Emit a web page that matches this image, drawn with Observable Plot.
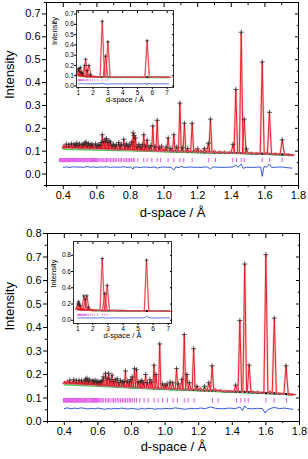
<!DOCTYPE html>
<html><head><meta charset="utf-8">
<script src="https://cdn.jsdelivr.net/npm/d3@7"></script>
<script src="https://cdn.jsdelivr.net/npm/@observablehq/plot@0.6"></script>
<style>
html,body{margin:0;padding:0;background:#fff;}
#wrap{position:relative;width:308px;height:459px;overflow:hidden;}
#wrap svg{position:absolute;}
</style></head><body><div id="wrap"></div>
<script>
// ---------- axis ticks ----------
const xTicks = [0.4,0.6,0.8,1.0,1.2,1.4,1.6,1.8];
const xMinor = [0.3,0.5,0.7,0.9,1.1,1.3,1.5,1.7];
const topYTicks = [0,0.1,0.2,0.3,0.4,0.5,0.6,0.7];
const topYMinor = [-0.05,0.05,0.15,0.25,0.35,0.45,0.55,0.65,0.75];
const botYTicks = [0,0.1,0.2,0.3,0.4,0.5,0.6,0.7,0.8];
const botYMinor = [0.05,0.15,0.25,0.35,0.45,0.55,0.65,0.75];
const insXTicks = [1,2,3,4,5,6,7];
const topInsYTicks = [0,0.1,0.2,0.3,0.4,0.5,0.6,0.7];
const botInsYTicks = [0,0.2,0.4,0.6,0.8];

// ---------- top panel (main) ----------
const topPeakD = [0.397,0.403,0.410,0.418,0.426,0.433,0.441,0.449,0.456,0.464,0.472,0.480,0.488,0.496,0.503,0.511,0.519,0.527,0.535,0.543,0.551,0.559,0.567,0.575,0.583,0.592,0.600,0.608,0.617,0.625,0.632,0.641,0.649,0.657,0.665,0.672,0.681,0.690,0.699,0.708,0.716,0.730,0.738,0.746,0.760,0.768,0.777,0.786,0.795,0.805,0.816,0.822,0.830,0.840,0.850,0.861,0.870,0.879,0.889,0.899,0.910,0.921,0.933,0.946,0.959,0.972,0.985,1.000,1.012,1.024,1.040,1.058,1.075,1.094,1.108,1.121,1.140,1.167,1.185,1.200,1.220,1.240,1.263,1.276,1.300,1.330,1.360,1.390,1.410,1.427,1.459,1.477,1.490,1.520,1.550,1.584,1.610,1.627,1.660,1.703,1.740,1.762];
const topPeakTop = [0.118,0.128,0.124,0.131,0.122,0.129,0.126,0.133,0.124,0.130,0.127,0.135,0.126,0.132,0.124,0.130,0.128,0.136,0.140,0.127,0.134,0.125,0.131,0.128,0.124,0.132,0.123,0.128,0.125,0.138,0.172,0.142,0.150,0.155,0.138,0.146,0.140,0.125,0.130,0.122,0.128,0.138,0.124,0.130,0.152,0.126,0.132,0.122,0.128,0.140,0.180,0.168,0.158,0.120,0.130,0.118,0.128,0.172,0.122,0.148,0.118,0.125,0.210,0.120,0.235,0.115,0.122,0.112,0.118,0.158,0.112,0.172,0.118,0.310,0.115,0.222,0.112,0.222,0.108,0.110,0.105,0.112,0.135,0.240,0.104,0.100,0.100,0.098,0.130,0.370,0.620,0.240,0.110,0.095,0.094,0.490,0.095,0.270,0.092,0.150,0.088,0.084];
const topPeakFoot = [0.116,0.116,0.114,0.116,0.115,0.114,0.116,0.115,0.113,0.115,0.114,0.115,0.113,0.114,0.113,0.114,0.112,0.114,0.113,0.112,0.113,0.111,0.112,0.111,0.112,0.111,0.110,0.111,0.110,0.111,0.110,0.111,0.110,0.109,0.110,0.109,0.110,0.108,0.109,0.108,0.109,0.107,0.108,0.107,0.108,0.106,0.107,0.106,0.107,0.105,0.106,0.105,0.106,0.104,0.105,0.104,0.105,0.103,0.104,0.103,0.104,0.102,0.103,0.102,0.101,0.102,0.101,0.101,0.100,0.101,0.099,0.100,0.099,0.099,0.098,0.099,0.097,0.098,0.097,0.096,0.097,0.095,0.096,0.095,0.094,0.094,0.093,0.092,0.093,0.092,0.092,0.091,0.091,0.090,0.089,0.089,0.088,0.088,0.087,0.086,0.084,0.083];
const topBgD = [0.40,0.60,0.80,1.00,1.20,1.40,1.60,1.76];
const topBgI = [0.108,0.105,0.101,0.097,0.093,0.090,0.086,0.082];
const topTickD = [0.377,0.381,0.385,0.389,0.392,0.396,0.400,0.404,0.408,0.411,0.415,0.419,0.423,0.427,0.431,0.435,0.439,0.443,0.447,0.451,0.455,0.459,0.463,0.467,0.472,0.476,0.480,0.485,0.489,0.494,0.498,0.503,0.507,0.512,0.517,0.521,0.526,0.531,0.536,0.541,0.546,0.552,0.557,0.563,0.568,0.574,0.580,0.586,0.592,0.598,0.605,0.611,0.618,0.625,0.632,0.641,0.649,0.657,0.665,0.672,0.681,0.690,0.699,0.708,0.716,0.730,0.738,0.746,0.760,0.768,0.777,0.786,0.795,0.805,0.816,0.822,0.844,0.879,0.899,0.927,0.959,0.978,1.024,1.058,1.094,1.117,1.167,1.266,1.306,1.409,1.431,1.459,1.477,1.584,1.627,1.703];
const topTickRow = [0.050,0.068];
const topDiffD = [0.40,0.42,0.44,0.46,0.48,0.50,0.52,0.54,0.56,0.58,0.60,0.62,0.64,0.66,0.68,0.70,0.72,0.74,0.76,0.78,0.80,0.816,0.82,0.84,0.86,0.88,0.90,0.92,0.94,0.96,0.98,1.00,1.02,1.04,1.058,1.07,1.09,1.10,1.12,1.14,1.16,1.18,1.20,1.22,1.24,1.26,1.276,1.29,1.32,1.35,1.38,1.41,1.427,1.44,1.459,1.47,1.49,1.52,1.55,1.575,1.584,1.595,1.61,1.627,1.64,1.67,1.70,1.73,1.76];
const topDiffI = [0.030,0.031,0.029,0.032,0.030,0.031,0.029,0.033,0.030,0.031,0.029,0.031,0.030,0.032,0.029,0.031,0.030,0.030,0.032,0.029,0.031,0.022,0.031,0.030,0.029,0.031,0.030,0.029,0.031,0.026,0.030,0.031,0.029,0.030,0.018,0.031,0.028,0.034,0.029,0.030,0.031,0.029,0.030,0.029,0.031,0.030,0.022,0.031,0.030,0.029,0.030,0.031,0.040,0.029,0.044,0.025,0.030,0.029,0.030,0.031,-0.010,0.033,0.030,0.044,0.029,0.030,0.031,0.028,0.026];

// ---------- bottom panel (main) ----------
const botPeakD = [0.397,0.403,0.410,0.418,0.426,0.433,0.441,0.449,0.456,0.464,0.472,0.480,0.488,0.496,0.503,0.511,0.519,0.527,0.535,0.543,0.551,0.559,0.567,0.575,0.583,0.592,0.600,0.608,0.617,0.625,0.632,0.645,0.654,0.664,0.672,0.684,0.693,0.703,0.715,0.725,0.735,0.746,0.755,0.764,0.775,0.786,0.795,0.804,0.818,0.830,0.840,0.852,0.862,0.872,0.884,0.895,0.910,0.920,0.934,0.946,0.968,0.985,1.000,1.012,1.030,1.045,1.068,1.080,1.100,1.114,1.130,1.145,1.170,1.190,1.210,1.235,1.260,1.280,1.300,1.330,1.360,1.390,1.420,1.445,1.474,1.500,1.520,1.550,1.575,1.600,1.625,1.650,1.680,1.720,1.745,1.762];
const botPeakTop = [0.165,0.172,0.168,0.175,0.170,0.176,0.168,0.172,0.178,0.170,0.174,0.168,0.176,0.170,0.175,0.168,0.172,0.180,0.184,0.172,0.178,0.168,0.174,0.170,0.176,0.168,0.172,0.166,0.170,0.175,0.190,0.205,0.185,0.205,0.180,0.198,0.170,0.178,0.182,0.165,0.175,0.168,0.170,0.215,0.172,0.168,0.178,0.190,0.225,0.220,0.168,0.170,0.175,0.165,0.200,0.165,0.178,0.168,0.240,0.200,0.330,0.160,0.155,0.160,0.168,0.165,0.225,0.160,0.180,0.370,0.200,0.165,0.310,0.150,0.145,0.150,0.165,0.237,0.140,0.135,0.132,0.130,0.155,0.430,0.670,0.240,0.130,0.128,0.125,0.710,0.130,0.440,0.122,0.237,0.118,0.115];
const botPeakFoot = [0.163,0.163,0.162,0.163,0.162,0.161,0.162,0.161,0.160,0.161,0.160,0.159,0.160,0.159,0.158,0.159,0.158,0.157,0.158,0.157,0.156,0.157,0.156,0.155,0.156,0.154,0.155,0.154,0.153,0.153,0.152,0.153,0.152,0.151,0.152,0.150,0.151,0.150,0.149,0.150,0.148,0.149,0.148,0.147,0.148,0.146,0.147,0.146,0.145,0.146,0.145,0.144,0.145,0.143,0.144,0.143,0.142,0.143,0.141,0.142,0.140,0.140,0.139,0.140,0.138,0.139,0.137,0.138,0.137,0.136,0.137,0.135,0.135,0.134,0.133,0.132,0.132,0.131,0.131,0.130,0.128,0.128,0.127,0.126,0.126,0.125,0.124,0.123,0.122,0.121,0.121,0.120,0.118,0.117,0.115,0.114];
const botBgD = [0.40,0.60,0.80,1.00,1.20,1.40,1.60,1.76];
const botBgI = [0.156,0.149,0.142,0.136,0.130,0.124,0.118,0.113];
const botTickD = [0.395,0.399,0.403,0.407,0.411,0.415,0.419,0.423,0.427,0.431,0.435,0.439,0.443,0.447,0.451,0.455,0.459,0.463,0.467,0.472,0.476,0.480,0.485,0.489,0.494,0.498,0.503,0.507,0.512,0.517,0.521,0.526,0.531,0.536,0.541,0.546,0.552,0.557,0.563,0.568,0.574,0.580,0.586,0.592,0.598,0.605,0.611,0.618,0.625,0.632,0.645,0.654,0.664,0.672,0.684,0.693,0.703,0.715,0.725,0.735,0.746,0.755,0.764,0.775,0.786,0.795,0.804,0.818,0.830,0.849,0.875,0.899,0.935,0.959,0.985,1.014,1.048,1.074,1.114,1.137,1.173,1.282,1.316,1.425,1.451,1.475,1.495,1.600,1.649,1.723];
const botTickRow = [0.078,0.098];
const botDiffD = [0.40,0.42,0.44,0.46,0.48,0.50,0.52,0.54,0.56,0.58,0.60,0.62,0.64,0.66,0.68,0.70,0.72,0.74,0.76,0.78,0.80,0.82,0.84,0.86,0.88,0.90,0.92,0.94,0.96,0.98,1.00,1.03,1.06,1.09,1.12,1.15,1.18,1.21,1.24,1.27,1.30,1.34,1.38,1.42,1.445,1.46,1.474,1.49,1.52,1.55,1.58,1.595,1.61,1.63,1.65,1.68,1.71,1.74,1.76];
const botDiffI = [0.055,0.058,0.054,0.057,0.055,0.058,0.056,0.053,0.056,0.054,0.057,0.055,0.052,0.055,0.053,0.056,0.054,0.057,0.055,0.053,0.056,0.054,0.052,0.055,0.053,0.056,0.055,0.052,0.055,0.053,0.056,0.054,0.058,0.055,0.052,0.056,0.054,0.057,0.055,0.062,0.056,0.054,0.057,0.055,0.062,0.047,0.066,0.055,0.054,0.056,0.055,0.036,0.050,0.056,0.060,0.055,0.057,0.054,0.052];

// ---------- top inset ----------
const tInsD = [1.00,1.05,1.10,1.15,1.20,1.30,1.42,1.50,1.60,1.72,1.82,1.95,2.10,2.30,2.62,2.84,3.00,3.30,3.70,4.10,4.50,4.90,5.30,5.65,6.00,6.40,6.80,7.10];
const tInsTop = [0.160,0.170,0.140,0.180,0.130,0.120,0.200,0.260,0.150,0.200,0.110,0.100,0.095,0.092,0.630,0.290,0.430,0.090,0.088,0.090,0.087,0.089,0.088,0.440,0.088,0.089,0.087,0.086];
const tInsFoot = [0.110,0.110,0.105,0.100,0.100,0.095,0.095,0.093,0.090,0.090,0.090,0.088,0.088,0.087,0.087,0.086,0.086,0.085,0.085,0.086,0.085,0.086,0.085,0.085,0.086,0.085,0.085,0.085];
const tInsBgD = [1.0,2.0,3.0,5.0,7.1];
const tInsBgI = [0.092,0.084,0.081,0.080,0.079];
const tInsTickD = [1.00,1.03,1.06,1.09,1.12,1.15,1.18,1.21,1.25,1.29,1.33,1.38,1.44,1.50,1.56,1.63,1.72,1.82,1.95,2.10,2.30,2.62,2.84,3.00];
const tInsTickRow = [0.045,0.060];
const tInsDiffD = [1.0,1.1,1.2,1.3,1.4,1.5,1.6,1.8,2.0,2.3,2.62,2.9,3.2,3.6,4.0,4.5,5.0,5.4,5.6,5.65,5.7,6.0,6.5,7.1];
const tInsDiffI = [0.022,0.018,0.025,0.020,0.024,0.017,0.022,0.020,0.021,0.020,0.026,0.018,0.020,0.021,0.020,0.021,0.020,0.021,0.026,0.008,0.024,0.020,0.021,0.020];

// ---------- bottom inset ----------
const bInsD = [1.00,1.05,1.10,1.15,1.22,1.30,1.40,1.50,1.60,1.70,1.82,1.95,2.10,2.30,2.62,2.79,2.95,3.30,3.70,4.10,4.50,4.90,5.30,5.56,5.90,6.30,6.70,7.10];
const bInsTop = [0.200,0.230,0.200,0.180,0.150,0.140,0.300,0.260,0.300,0.160,0.140,0.130,0.130,0.125,0.760,0.330,0.430,0.120,0.118,0.120,0.116,0.118,0.115,0.740,0.114,0.115,0.112,0.112];
const bInsFoot = [0.135,0.135,0.132,0.130,0.130,0.128,0.128,0.127,0.125,0.125,0.124,0.123,0.122,0.121,0.120,0.120,0.119,0.118,0.117,0.117,0.116,0.116,0.115,0.114,0.114,0.113,0.112,0.112];
const bInsBgD = [1.0,2.0,3.0,5.0,7.1];
const bInsBgI = [0.125,0.118,0.115,0.110,0.108];
const bInsTickD = [1.00,1.03,1.06,1.09,1.12,1.15,1.18,1.22,1.26,1.30,1.35,1.40,1.45,1.50,1.56,1.60,1.70,1.82,1.95,2.10,2.30,2.62,2.79,2.95];
const bInsTickRow = [0.050,0.072];
const bInsDiffD = [1.0,1.1,1.2,1.3,1.4,1.5,1.6,1.8,2.0,2.3,2.62,2.9,3.2,3.6,4.0,4.5,5.0,5.4,5.56,5.7,6.0,6.5,7.1];
const bInsDiffI = [0.030,0.026,0.032,0.028,0.031,0.026,0.030,0.028,0.029,0.028,0.033,0.027,0.028,0.029,0.028,0.029,0.028,0.030,0.048,0.032,0.028,0.029,0.028];

// ---------- helpers ----------
const FONT = '"Liberation Sans", Arial, Helvetica, sans-serif';
const RED = "#e3121e", PINK = "#f6b3b8", GREEN = "#3bd93b", BLUE = "#3658d8", MAG = "#e25ae6";
const zipXY = (X, Y) => X.map((x, i) => ({x, y: Y[i]}));
function profile(D, Top, Foot, hw) {
  const pts = [];
  D.forEach((d, i) => {
    const w = hw(d);
    pts.push({x: d - w, y: Foot[i]}, {x: d, y: Top[i]}, {x: d + w, y: Foot[i]});
  });
  return pts;
}
const noLabel = () => "";

function panel(cfg) {
  const prof = profile(cfg.D, cfg.Top, cfg.Foot, cfg.hw);
  const feet = zipXY(cfg.D, cfg.Foot);
  const tops = zipXY(cfg.D, cfg.Top).filter((p, i) => p.y - cfg.Foot[i] > cfg.markMin);
  const fs = cfg.fs;
  return Plot.plot({
    width: cfg.width, height: cfg.height,
    marginLeft: cfg.ml, marginRight: cfg.mr, marginTop: cfg.mt, marginBottom: cfg.mb,
    style: {fontFamily: FONT, fontSize: fs + "px", background: "transparent", color: "#000", overflow: "visible"},
    x: {domain: cfg.xDomain},
    y: {domain: cfg.yDomain},
    marks: [
      Plot.frame({fill: "white", stroke: "none"}),
      Plot.line(zipXY(cfg.bgD, cfg.bgI), {x: "x", y: "y", stroke: GREEN, strokeWidth: cfg.lw * 1.2}),
      Plot.line(feet, {x: "x", y: "y", stroke: "#161616", strokeWidth: cfg.lw * 2.2, strokeDasharray: "1.3,0.9"}),
      Plot.line(prof, {x: "x", y: "y", stroke: PINK, strokeWidth: cfg.lw * 2.4, strokeOpacity: 0.7}),
      Plot.line(prof, {x: "x", y: "y", stroke: RED, strokeWidth: cfg.lw * 0.9}),
      Plot.dot(tops, {x: "x", y: "y", symbol: "plus", r: cfg.mr2, stroke: "#222", strokeWidth: 0.7}),
      Plot.ruleX(cfg.tickD, {x: d => d, y1: cfg.tickRow[0], y2: cfg.tickRow[1], stroke: MAG, strokeWidth: cfg.lw}),
      Plot.line(zipXY(cfg.diffD, cfg.diffI), {x: "x", y: "y", stroke: BLUE, strokeWidth: cfg.lw}),
      Plot.frame({stroke: cfg.frameColor, strokeWidth: 1}),
      Plot.axisX({ticks: cfg.xTicks, tickSize: cfg.ts, tickPadding: cfg.tp, tickFormat: cfg.xFmt, label: null, fontSize: fs}),
      Plot.axisX({ticks: cfg.xTicks, anchor: "top", tickSize: -cfg.ts, tickFormat: noLabel, label: null}),
      ...(cfg.xMinor ? [
        Plot.axisX({ticks: cfg.xMinor, tickSize: cfg.ts * 0.55, tickFormat: noLabel, label: null}),
        Plot.axisX({ticks: cfg.xMinor, anchor: "top", tickSize: -cfg.ts * 0.55, tickFormat: noLabel, label: null})
      ] : []),
      Plot.axisY({ticks: cfg.yTicks, tickSize: cfg.ts, tickPadding: cfg.tp, tickFormat: cfg.yFmt, label: null, fontSize: fs}),
      Plot.axisY({ticks: cfg.yTicks, anchor: "right", tickSize: -cfg.ts, tickFormat: noLabel, label: null}),
      ...(cfg.yMinor ? [
        Plot.axisY({ticks: cfg.yMinor, tickSize: cfg.ts * 0.55, tickFormat: noLabel, label: null}),
        Plot.axisY({ticks: cfg.yMinor, anchor: "right", tickSize: -cfg.ts * 0.55, tickFormat: noLabel, label: null})
      ] : []),
      Plot.text([cfg.xTitle], {frameAnchor: "bottom", dy: cfg.xTitleDy, fontSize: cfg.titleFs}),
      Plot.text([cfg.yTitle], {frameAnchor: "left", dx: cfg.yTitleDx, dy: cfg.yTitleDy, rotate: -90, fontSize: cfg.titleFs})
    ]
  });
}

const wrap = document.getElementById("wrap");
function place(svg, left, top) {
  svg.style.left = left + "px";
  svg.style.top = top + "px";
  wrap.appendChild(svg);
}
const fmt1 = d3.format(".1f");
const fmt0 = d3.format("d");
const mainCommon = {
  width: 308, xTicks, xMinor, xFmt: fmt1, yFmt: fmt1, fs: 11, titleFs: 13, ts: 4, tp: 2,
  lw: 1, mr2: 1.8, markMin: 0.012, frameColor: "#000",
  hw: d => d * 0.0075,
  xTitle: "d-space / Å", yTitle: "Intensity"
};

place(panel({...mainCommon, height: 230, ml: 46, mr: 10, mt: 2, mb: 45,
  xDomain: [0.3, 1.8], yDomain: [-0.05, 0.75], yTicks: topYTicks, yMinor: topYMinor,
  D: topPeakD, Top: topPeakTop, Foot: topPeakFoot, bgD: topBgD, bgI: topBgI,
  tickD: topTickD, tickRow: topTickRow, diffD: topDiffD, diffI: topDiffI,
  xTitleDy: 31, yTitleDx: -37, yTitleDy: 5}), 0, 0);

place(panel({...mainCommon, height: 229, ml: 47, mr: 9, mt: 3, mb: 38,
  xDomain: [0.3, 1.8], yDomain: [0, 0.8], yTicks: botYTicks, yMinor: botYMinor,
  D: botPeakD, Top: botPeakTop, Foot: botPeakFoot, bgD: botBgD, bgI: botBgI,
  tickD: botTickD, tickRow: botTickRow, diffD: botDiffD, diffI: botDiffI,
  xTitleDy: 29, yTitleDx: -38, yTitleDy: 3}), 0, 230);

const insCommon = {
  width: 140, xTicks: insXTicks, xMinor: null, yMinor: null, xFmt: fmt0, yFmt: fmt1,
  fs: 6.5, titleFs: 7.5, ts: 2, tp: 0.5, lw: 0.8, mr2: 1.3, markMin: 0.02, frameColor: "#333",
  hw: d => 0.15, xTitle: "d-space / Å", yTitle: "Intensity"
};

place(panel({...insCommon, height: 102, ml: 36, mr: 7, mt: 7, mb: 18,
  xDomain: [0.88, 7.43], yDomain: [-0.015, 0.735], yTicks: topInsYTicks,
  D: tInsD, Top: tInsTop, Foot: tInsFoot, bgD: tInsBgD, bgI: tInsBgI,
  tickD: tInsTickD, tickRow: tInsTickRow, diffD: tInsDiffD, diffI: tInsDiffI,
  xTitleDy: 14.5, yTitleDx: -22, yTitleDy: -4}), 40, 3);

place(panel({...insCommon, height: 104, ml: 33, mr: 9, mt: 5, mb: 17,
  xDomain: [0.71, 7.22], yDomain: [-0.04, 0.97], yTicks: botInsYTicks,
  D: bInsD, Top: bInsTop, Foot: bInsFoot, bgD: bInsBgD, bgI: bInsBgI,
  tickD: bInsTickD, tickRow: bInsTickRow, diffD: bInsDiffD, diffI: bInsDiffI,
  xTitleDy: 14.5, yTitleDx: -20, yTitleDy: 5}), 40, 236);
</script></body></html>
